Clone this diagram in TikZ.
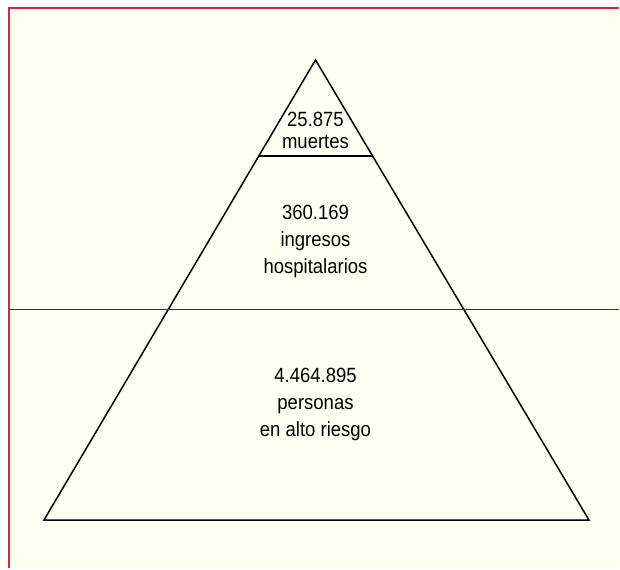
\documentclass[tikz,border=0pt]{standalone}
\usepackage{fontspec}
\setmainfont{Liberation Sans}[FakeStretch=0.9]
\usepackage{tikz}
\usetikzlibrary{calc}
\definecolor{crema}{RGB}{255,254,241}
\definecolor{borde}{RGB}{214,38,62}
\tikzset{
  etiqueta/.style={align=center, font={\fontsize{10.3}{13.5}\selectfont}, text=black},
  linea/.style={black, line width=0.75pt}
}
\begin{document}
\begin{tikzpicture}[x=0.5pt, y=-0.5pt]
    % fondo y marco
    \fill[white] (0,0) rectangle (620,569);
    \fill[crema] (9,8) rectangle (620,569);
    \draw[borde, line width=1pt] (9,569) -- (9,8) -- (620,8);
    \useasboundingbox (0,0) rectangle (620,569);

    % pirámide
    \coordinate (cima) at (316,60);
    \coordinate (baseI) at (44,521);
    \coordinate (baseD) at (590,521);
    \draw[linea, line join=miter] (cima) -- (baseI) -- (baseD) -- cycle;

    % divisiones
    \coordinate (corteI) at ($(cima)!0.2083!(baseI)$);
    \coordinate (corteD) at ($(cima)!0.2083!(baseD)$);
    \draw[linea] (corteI) -- (corteD);
    \coordinate (franjaI) at (10,310);
    \coordinate (franjaD) at (620,310);
    \draw[black!80, line width=0.75pt] (franjaI) -- (franjaD);

    % textos
    \node[etiqueta, font={\fontsize{10.3}{11}\selectfont}] (muertes) at (316,131) {25.875\\muertes};
    \node[etiqueta] (ingresos) at (316,242) {360.169\\ingresos\\hospitalarios};
    \node[etiqueta] (riesgo) at (316,405) {4.464.895\\personas\\en alto riesgo};
\end{tikzpicture}
\end{document}
